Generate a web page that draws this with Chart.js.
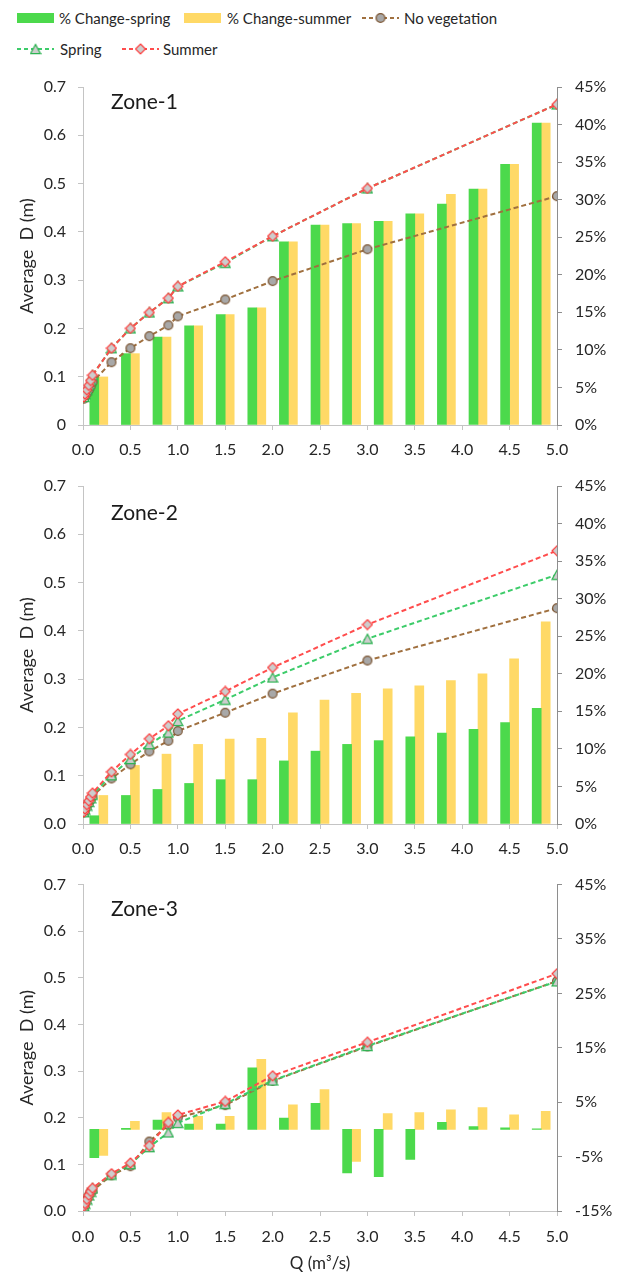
<!DOCTYPE html>
<html>
<head>
<meta charset="utf-8">
<script src="https://cdn.jsdelivr.net/npm/chart.js@4.4.1/dist/chart.umd.min.js"></script>
<style>
  html, body { margin: 0; padding: 0; background: #fff; }
  body { width: 620px; height: 1274px; position: relative; overflow: hidden; font-family: Lato, "Open Sans", sans-serif; }
  canvas.zone { position: absolute; left: 0; }
  #legend { position: absolute; left: 0; top: 0; width: 620px; height: 64px; }
  .lg { position: absolute; font-size: 15px; line-height: 20px; color: #262626; white-space: nowrap; }
  .sym { position: absolute; }
</style>
</head>
<body>
<div id="legend"></div>
<canvas id="zone1" class="zone" width="620" height="398" style="top:64px"></canvas>
<canvas id="zone2" class="zone" width="620" height="400" style="top:462px"></canvas>
<canvas id="zone3" class="zone" width="620" height="412" style="top:862px"></canvas>
<script>
// Discharge values (m3/s) at which depth was computed
const Q = [0.01, 0.02, 0.04, 0.06, 0.08, 0.1, 0.3, 0.5, 0.7, 0.9, 1.0, 1.5, 2.0, 3.0, 5.0];
const qCategories = Q.map(String);

// Zone-1: average depth D (m)
const noVeg1  = [0.0545, 0.0585, 0.0654, 0.0725, 0.0802, 0.0891, 0.130, 0.159, 0.184, 0.2066, 0.225, 0.260, 0.298, 0.364, 0.474];
const spring1 = [0.058, 0.064, 0.073, 0.082, 0.092, 0.103, 0.159, 0.200, 0.233, 0.2625, 0.287, 0.336, 0.391, 0.490, 0.664];
const summer1 = [0.058, 0.064, 0.073, 0.082, 0.092, 0.103, 0.159, 0.200, 0.233, 0.2625, 0.287, 0.338, 0.391, 0.490, 0.664];
// Zone-1: % change relative to no vegetation
const chgSpring1 = [6.4, 9.5, 11.7, 13.2, 14.7, 15.6, 24.4, 26.6, 26.8, 27.1, 28.1, 29.4, 31.4, 34.7, 40.2];
const chgSummer1 = [6.4, 9.5, 11.7, 13.2, 14.7, 15.6, 24.4, 26.6, 26.8, 27.1, 28.1, 30.7, 31.4, 34.7, 40.2];

// Zone-2
const noVeg2  = [0.0241, 0.0288, 0.0366, 0.0434, 0.0503, 0.0574, 0.0943, 0.1236, 0.1504, 0.1724, 0.1926, 0.2305, 0.270, 0.3385, 0.447];
const spring2 = [0.0244, 0.0299, 0.0383, 0.0457, 0.0532, 0.0608, 0.101, 0.1348, 0.1655, 0.1895, 0.2135, 0.2575, 0.3035, 0.3837, 0.5163];
const summer2 = [0.025, 0.031, 0.040, 0.048, 0.056, 0.064, 0.108, 0.144, 0.1766, 0.2034, 0.228, 0.2745, 0.324, 0.413, 0.566];
const chgSpring2 = [1.1, 3.8, 4.6, 5.4, 5.9, 5.9, 8.4, 9.7, 10.6, 11.1, 11.6, 12.1, 12.6, 13.5, 15.4];
const chgSummer2 = [3.8, 7.8, 9.3, 10.6, 11.3, 11.4, 14.8, 16.5, 17.4, 18.0, 18.4, 19.1, 20.0, 22.0, 26.9];

// Zone-3
const noVeg3  = [0.0105, 0.0158, 0.0242, 0.0332, 0.0410, 0.0434, 0.0766, 0.096, 0.149, 0.1846, 0.200, 0.227, 0.279, 0.353, 0.493];
const spring3 = [0.0100, 0.0158, 0.0246, 0.0335, 0.0414, 0.0483, 0.0782, 0.1006, 0.137, 0.1685, 0.189, 0.230, 0.280, 0.354, 0.4925];
const summer3 = [0.010, 0.016, 0.025, 0.034, 0.042, 0.049, 0.080, 0.103, 0.140, 0.190, 0.206, 0.235, 0.290, 0.362, 0.509];
const chgSpring3 = [-5.2, 0.2, 1.7, 1.0, 1.0, 11.3, 2.1, 4.8, -8.0, -8.7, -5.5, 1.3, 0.5, 0.3, 0.1];
const chgSummer3 = [-4.8, 1.5, 3.1, 2.4, 2.4, 12.9, 4.5, 7.3, -5.9, 2.9, 3.1, 3.6, 4.0, 2.7, 3.3];

// Axis tick settings
const depthTicks = { min: 0, max: 0.7, step: 0.1 };
const pctTicksA = { min: 0, max: 45, step: 5 };
const pctTicksB = { min: -15, max: 45, step: 10 };
const qTicks = { min: 0, max: 5, step: 0.5 };

// ---- styling ----
const FONT = 'Lato';
const TEXT = '#262626';
const COL = {
  springBar: '#4CD94C',
  summerBar: '#FFD966',
  noveg:  { line: '#A0703F', fill: '#A8A8A8', stroke: '#7C5532', shape: 'circle' },
  spring: { line: '#3DCC6A', fill: '#CDCDCD', stroke: '#2DB352', shape: 'triangle' },
  summer: { line: '#FF4D4D', fill: '#CDCDCD', stroke: '#FF3B3B', shape: 'diamond' }
};

function markerImage(st) {
  const s = 12, c = document.createElement('canvas');
  c.width = s; c.height = s;
  const g = c.getContext('2d');
  g.lineWidth = 1.2;
  g.fillStyle = st.fill;
  g.strokeStyle = st.stroke;
  const m = s / 2;
  g.beginPath();
  if (st.shape === 'circle') {
    g.arc(m, m, 4.4, 0, Math.PI * 2);
  } else if (st.shape === 'diamond') {
    g.moveTo(m, m - 5); g.lineTo(m + 5, m); g.lineTo(m, m + 5); g.lineTo(m - 5, m); g.closePath();
  } else {
    g.moveTo(m, m - 4.6); g.lineTo(m + 5, m + 4.6); g.lineTo(m - 5, m + 4.6); g.closePath();
  }
  g.fill(); g.stroke();
  return c;
}
const MARK = {
  noveg: markerImage(COL.noveg),
  spring: markerImage(COL.spring),
  summer: markerImage(COL.summer)
};

const toPoints = (ys) => ys.map((y, i) => ({ x: Q[i], y }));

function lineSet(label, ys, key, order) {
  return {
    type: 'line', label, data: toPoints(ys),
    xAxisID: 'x', yAxisID: 'y',
    borderColor: COL[key].line, borderWidth: 2, borderDash: [5, 3],
    pointStyle: MARK[key], pointRadius: 5, pointHoverRadius: 5,
    fill: false, tension: 0, order
  };
}
function barSet(label, vals, color, order) {
  return {
    type: 'bar', label, data: vals,
    xAxisID: 'xc', yAxisID: 'yr',
    backgroundColor: color, borderWidth: 0,
    barThickness: 9, order
  };
}

const zoneLabel = {
  id: 'zoneLabel',
  afterDraw(chart, args, opts) {
    const { ctx, chartArea } = chart;
    ctx.save();
    ctx.font = '21px ' + FONT;
    ctx.fillStyle = '#1a1a1a';
    ctx.textBaseline = 'alphabetic';
    ctx.fillText(opts.text, chartArea.left + opts.dx, chartArea.top + opts.dy);
    ctx.restore();
  }
};

function makeZone(id, cfg) {
  const axisGrey = '#c4c4c4', rightGrey = '#8e8e8e';
  return new Chart(document.getElementById(id), {
    type: 'bar',
    data: {
      labels: qCategories,
      // line series listed first; the two bar series sit side by side in each category
      datasets: [
        lineSet('No vegetation', cfg.noVeg, 'noveg', 3),
        lineSet('Spring', cfg.spring, 'spring', 2),
        lineSet('Summer', cfg.summer, 'summer', 1),
        barSet('% Change-spring', cfg.chgSpring, COL.springBar, 10),
        barSet('% Change-summer', cfg.chgSummer, COL.summerBar, 11)
      ]
    },
    options: {
      responsive: false, animation: false, devicePixelRatio: 1,
      layout: { padding: { top: cfg.padTop, left: 0, right: 0, bottom: 0 } },
      plugins: {
        legend: { display: false }, tooltip: { enabled: false },
        zoneLabel: { text: cfg.name, dx: 28, dy: cfg.labelDy }
      },
      scales: {
        xc: { type: 'category', display: false, offset: true },
        x: {
          type: 'linear', position: 'bottom', min: qTicks.min, max: qTicks.max, offset: false,
          ticks: { stepSize: qTicks.step, padding: cfg.xPad, color: TEXT, font: { family: FONT, size: 16 },
                   maxRotation: 0, autoSkip: false, callback: (v) => Number(v).toFixed(1) },
          grid: { drawOnChartArea: false, drawTicks: true, tickLength: 5, color: axisGrey, offset: false },
          border: { display: true, color: axisGrey },
          title: cfg.xTitle ? { display: true, text: 'Q (m³/s)', color: TEXT, font: { family: FONT, size: 17 },
                                padding: { top: 0, bottom: 0 } } : { display: false },
          afterFit: (s) => { s.height = cfg.xHeight; }
        },
        y: {
          type: 'linear', position: 'left', min: depthTicks.min, max: depthTicks.max,
          ticks: { stepSize: depthTicks.step, padding: 12, color: TEXT, font: { family: FONT, size: 16 },
                   callback: (v) => (v === 0 && cfg.plainZero) ? '0' : Number(v).toFixed(1) },
          grid: { drawOnChartArea: false, drawTicks: true, tickLength: 5, color: axisGrey },
          border: { display: true, color: axisGrey },
          title: { display: true, text: 'Average  D (m)', color: TEXT, font: { family: FONT, size: 18 },
                   padding: { top: 16, bottom: 0 } },
          afterFit: (s) => { s.width = 83; }
        },
        yr: {
          type: 'linear', position: 'right', min: cfg.pct.min, max: cfg.pct.max,
          ticks: { stepSize: cfg.pct.step, padding: 13, color: TEXT, font: { family: FONT, size: 16 },
                   callback: (v) => Math.round(v) + '%' },
          grid: { drawOnChartArea: false, drawTicks: true, tickLength: 5, color: rightGrey },
          border: { display: true, color: rightGrey },
          afterFit: (s) => { s.width = 63; }
        }
      }
    },
    plugins: [zoneLabel]
  });
}

function buildLegend() {
  const box = document.getElementById('legend');
  const add = (el) => { box.appendChild(el); return el; };
  const text = (x, cy, t) => {
    const d = document.createElement('div');
    d.className = 'lg'; d.textContent = t;
    d.style.left = x + 'px'; d.style.top = (cy - 10) + 'px';
    add(d);
  };
  const barSym = (x, cy, color) => {
    const d = document.createElement('div');
    d.className = 'sym';
    d.style.cssText += `left:${x}px;top:${cy - 5}px;width:37px;height:10px;background:${color}`;
    add(d);
  };
  const lineSym = (x, cy, key) => {
    const c = document.createElement('canvas');
    c.width = 37; c.height = 14; c.className = 'sym';
    c.style.left = x + 'px'; c.style.top = (cy - 7) + 'px';
    const g = c.getContext('2d');
    g.strokeStyle = COL[key].line; g.lineWidth = 2; g.setLineDash([4, 3]);
    g.beginPath(); g.moveTo(0, 7); g.lineTo(37, 7); g.stroke();
    g.drawImage(MARK[key], 18.5 - 6, 1);
    add(c);
  };
  barSym(17, 18, COL.springBar); text(59, 18, '% Change-spring');
  barSym(184, 18, COL.summerBar); text(227, 18, '% Change-summer');
  lineSym(362, 18, 'noveg'); text(404, 18, 'No vegetation');
  lineSym(17, 49, 'spring'); text(60, 49, 'Spring');
  lineSym(122, 49, 'summer'); text(163, 49, 'Summer');
}

function draw() {
  buildLegend();
  makeZone('zone1', { name: 'Zone-1', padTop: 23, labelDy: 22, xHeight: 37, xPad: 10, plainZero: true,
    pct: pctTicksA, noVeg: noVeg1, spring: spring1, summer: summer1, chgSpring: chgSpring1, chgSummer: chgSummer1 });
  makeZone('zone2', { name: 'Zone-2', padTop: 24, labelDy: 34, xHeight: 38, xPad: 10, plainZero: false,
    pct: pctTicksA, noVeg: noVeg2, spring: spring2, summer: summer2, chgSpring: chgSpring2, chgSummer: chgSummer2 });
  makeZone('zone3', { name: 'Zone-3', padTop: 12, labelDy: 31, xHeight: 63, xPad: 11, plainZero: false, xTitle: true,
    pct: pctTicksB, noVeg: noVeg3, spring: spring3, summer: summer3, chgSpring: chgSpring3, chgSummer: chgSummer3 });
}

if (document.fonts && document.fonts.load) {
  document.fonts.load('16px ' + FONT).then(draw, draw);
} else {
  draw();
}
</script>
</body>
</html>
